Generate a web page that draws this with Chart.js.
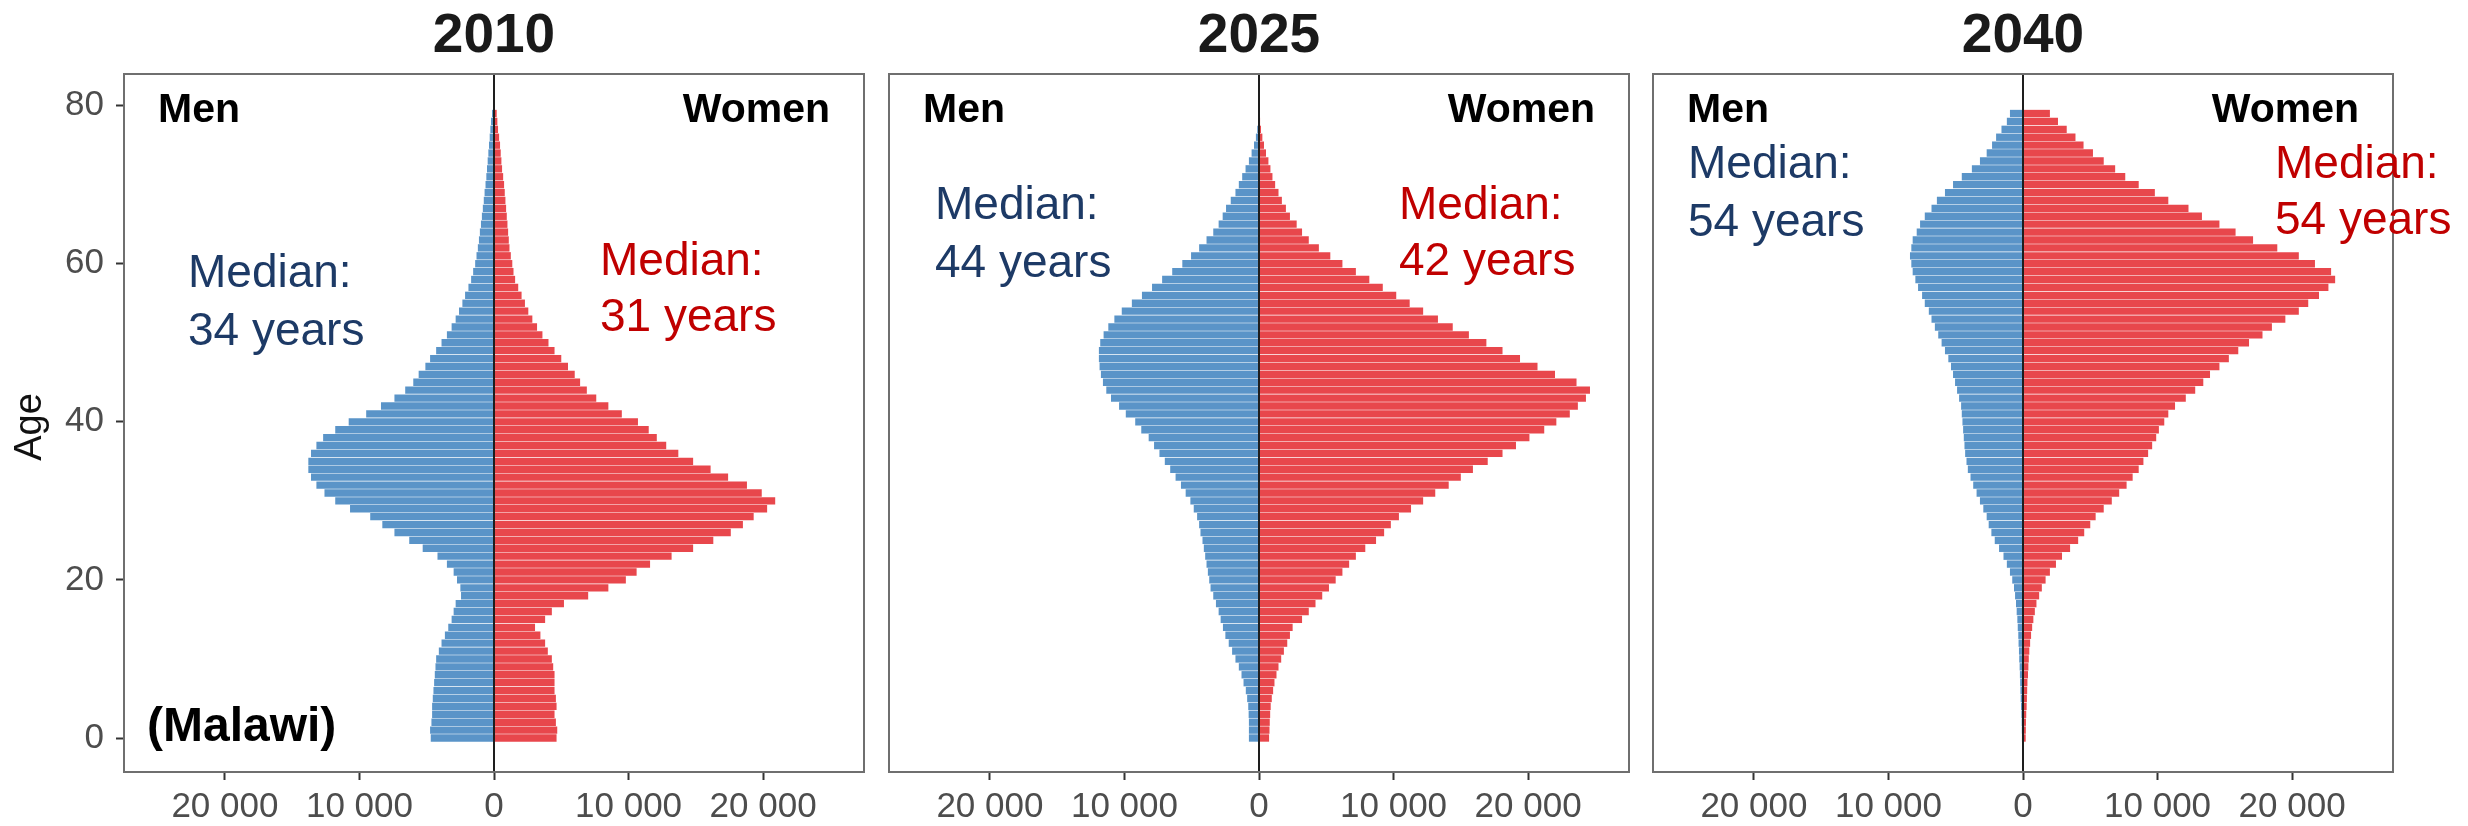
<!DOCTYPE html>
<html>
<head>
<meta charset="utf-8">
<script src="https://cdn.jsdelivr.net/npm/chart.js@4.4.1/dist/chart.umd.min.js"></script>
<style>
  html, body { margin: 0; padding: 0; background: #ffffff; }
  #wrap { position: relative; width: 2468px; height: 826px; overflow: hidden; }
  #wrap canvas { position: absolute; left: 0; top: 0; }
</style>
</head>
<body>
<div id="wrap">
  <canvas id="c2010" width="2468" height="826"></canvas>
  <canvas id="c2025" width="2468" height="826"></canvas>
  <canvas id="c2040" width="2468" height="826"></canvas>
</div>
<script>
// ---- data: single-year ages and population by sex (persons) ----
const AGES = [
  0, 1, 2, 3, 4, 5, 6, 7, 8, 9, 10, 11, 12, 13, 14, 15, 16, 17, 18, 19,
  20, 21, 22, 23, 24, 25, 26, 27, 28, 29, 30, 31, 32, 33, 34, 35, 36, 37, 38, 39,
  40, 41, 42, 43, 44, 45, 46, 47, 48, 49, 50, 51, 52, 53, 54, 55, 56, 57, 58, 59,
  60, 61, 62, 63, 64, 65, 66, 67, 68, 69, 70, 71, 72, 73, 74, 75, 76, 77, 78, 79
];
const AGE_TICKS = [0, 20, 40, 60, 80];
const POP_TICKS = [-20000, -10000, 0, 10000, 20000];
const YEARS = ['2010', '2025', '2040'];

const MEN_2010 = [
  4700, 4750, 4650, 4600, 4600, 4550, 4500, 4450, 4400, 4350, 4300, 4100, 3900, 3650, 3400, 3150, 3000, 2850, 2450, 2500,
  2750, 3000, 3500, 4200, 5300, 6300, 7400, 8300, 9200, 10700, 11800, 12600, 13200, 13600, 13800, 13800, 13600, 13200, 12700, 11800,
  10800, 9500, 8400, 7400, 6600, 6000, 5600, 5100, 4750, 4300, 3900, 3500, 3150, 2850, 2600, 2350, 2150, 1900, 1700, 1550,
  1400, 1300, 1200, 1120, 1050, 970, 900, 830, 760, 700, 630, 570, 520, 470, 420, 370, 320, 270, 220, 150
];
const WOMEN_2010 = [
  4650, 4700, 4600, 4500, 4650, 4600, 4500, 4500, 4500, 4400, 4300, 4000, 3800, 3450, 3050, 3800, 4300, 5200, 7000, 8500,
  9800, 10600, 11600, 13200, 14800, 16300, 17600, 18500, 19300, 20300, 20900, 19900, 18800, 17400, 16100, 14800, 13700, 12800, 12100, 11500,
  10700, 9500, 8500, 7600, 6900, 6400, 6000, 5500, 5000, 4500, 4050, 3600, 3200, 2850, 2550, 2300, 2050, 1800, 1570, 1450,
  1360, 1250, 1150, 1100, 1050, 1000, 950, 900, 850, 800, 750, 680, 600, 550, 500, 450, 380, 300, 250, 200
];
const MEN_2025 = [
  750, 750, 750, 770, 800, 880, 980, 1150, 1300, 1500, 1750, 2000, 2250, 2500, 2680, 2850, 3000, 3200, 3400, 3600,
  3700, 3800, 3900, 4000, 4100, 4200, 4350, 4450, 4600, 4850, 5100, 5450, 5800, 6200, 6600, 7000, 7400, 7800, 8200, 8750,
  9200, 9900, 10400, 11000, 11350, 11600, 11750, 11850, 11900, 11900, 11800, 11550, 11200, 10750, 10200, 9450, 8700, 7950, 7200, 6450,
  5700, 5050, 4450, 3900, 3400, 3000, 2700, 2450, 2100, 1750, 1500, 1250, 1000, 750, 550, 370, 230, 130, 70, 30
];
const WOMEN_2025 = [
  750, 780, 800, 830, 870, 950, 1050, 1150, 1300, 1450, 1650, 1850, 2100, 2300, 2500, 3200, 3700, 4200, 4700, 5200,
  5700, 6200, 6700, 7200, 7900, 8700, 9300, 9800, 10400, 11300, 12200, 13100, 14100, 15000, 15900, 17000, 18100, 19100, 20100, 21200,
  22100, 23100, 23700, 24300, 24600, 23600, 22000, 20700, 19400, 18100, 16900, 15600, 14400, 13300, 12200, 11200, 10200, 9200, 8200, 7200,
  6200, 5300, 4450, 3700, 3200, 2800, 2300, 2000, 1700, 1450, 1200, 1000, 850, 700, 520, 370, 250, 150, 80, 40
];
const MEN_2040 = [
  80, 90, 100, 120, 150, 170, 190, 210, 230, 250, 280, 300, 330, 350, 390, 420, 470, 520, 590, 670,
  800, 970, 1200, 1450, 1780, 2100, 2350, 2550, 2700, 2950, 3200, 3450, 3700, 3900, 4100, 4200, 4300, 4350, 4400, 4450,
  4500, 4550, 4600, 4750, 4900, 5050, 5200, 5350, 5550, 5800, 6050, 6300, 6550, 6800, 7000, 7300, 7500, 7800, 8000, 8200,
  8300, 8400, 8300, 8200, 7900, 7650, 7300, 6800, 6400, 5800, 5200, 4550, 3800, 3200, 2700, 2300, 2000, 1600, 1200, 970
];
const WOMEN_2040 = [
  200, 210, 220, 240, 270, 290, 310, 330, 370, 400, 430, 470, 530, 600, 680, 770, 880, 1000, 1200, 1400,
  1680, 2000, 2450, 2900, 3500, 4100, 4550, 5000, 5400, 6000, 6600, 7150, 7700, 8150, 8600, 8950, 9300, 9600, 9900, 10100,
  10500, 10800, 11300, 12100, 12800, 13400, 13900, 14600, 15300, 16000, 16800, 17800, 18500, 19500, 20500, 21200, 22000, 22700, 23200, 22900,
  21700, 20500, 18900, 17100, 15800, 14600, 13300, 12300, 10800, 9800, 8600, 7600, 6850, 6000, 5200, 4500, 3900, 3250, 2600, 2000
];

const MEN_SERIES = [MEN_2010, MEN_2025, MEN_2040];
const WOMEN_SERIES = [WOMEN_2010, WOMEN_2025, WOMEN_2040];
const MEDIAN_MEN = ['34 years', '44 years', '54 years'];
const MEDIAN_WOMEN = ['31 years', '42 years', '54 years'];

// ---- layout and styling ----
const W = 2468, H = 826;
const BOX_TOP = 74, BOX_BOTTOM = 772;
const FONT = '"Liberation Sans", Arial, Helvetica, sans-serif';
const BLUE = '#5a94c8';
const RED = '#e8474c';
const BLUE_TEXT = '#1d3a66';
const RED_TEXT = '#c00000';

const PANELS = [
  { canvas: 'c2010', left: 124, right: 864, yAxis: true, country: '(Malawi)',
    menText: { x: 188, y: 287 }, womenText: { x: 600, y: 275 } },
  { canvas: 'c2025', left: 889, right: 1629, yAxis: false, country: null,
    menText: { x: 935, y: 219 }, womenText: { x: 1399, y: 219 } },
  { canvas: 'c2040', left: 1653, right: 2393, yAxis: false, country: null,
    menText: { x: 1688, y: 178 }, womenText: { x: 2275, y: 178 } }
];

function fmtPop(v) {
  const a = Math.abs(Math.round(v));
  return String(a).replace(/\B(?=(\d{3})+(?!\d))/g, ' ');
}

// panel frame, zero line and the text annotations
const decorPlugin = {
  id: 'decor',
  afterDatasetsDraw(chart, args, o) {
    const { ctx, chartArea: a } = chart;
    const xs = chart.scales.x;
    ctx.save();
    // zero line
    const x0 = Math.round(xs.getPixelForValue(0));
    ctx.strokeStyle = '#1e1e1e';
    ctx.lineWidth = 2;
    ctx.beginPath();
    ctx.moveTo(x0, a.top);
    ctx.lineTo(x0, a.bottom);
    ctx.stroke();
    // panel border
    ctx.strokeStyle = '#6f6f6f';
    ctx.lineWidth = 2;
    ctx.strokeRect(a.left, a.top, a.right - a.left, a.bottom - a.top);

    // year heading
    ctx.fillStyle = '#1a1a1a';
    ctx.textBaseline = 'alphabetic';
    ctx.textAlign = 'center';
    ctx.font = 'bold 55px ' + FONT;
    ctx.fillText(o.year, (a.left + a.right) / 2, 52);

    // sex labels
    ctx.fillStyle = '#000000';
    ctx.font = 'bold 41px ' + FONT;
    ctx.textAlign = 'left';
    ctx.fillText('Men', a.left + 34, 122);
    ctx.textAlign = 'right';
    ctx.fillText('Women', a.right - 34, 122);

    // medians
    ctx.textAlign = 'left';
    ctx.font = '46px ' + FONT;
    ctx.fillStyle = BLUE_TEXT;
    ctx.fillText('Median:', o.menText.x, o.menText.y);
    ctx.fillText(o.menMedian, o.menText.x, o.menText.y + 58);
    ctx.fillStyle = RED_TEXT;
    ctx.fillText('Median:', o.womenText.x, o.womenText.y);
    ctx.fillText(o.womenMedian, o.womenText.x, o.womenText.y + 56);

    if (o.country) {
      ctx.fillStyle = '#000000';
      ctx.font = 'bold 48px ' + FONT;
      ctx.fillText(o.country, a.left + 23, 741);
    }
    if (o.axisTitle) {
      ctx.fillStyle = '#111111';
      ctx.font = '38px ' + FONT;
      ctx.translate(41, (a.top + a.bottom) / 2 + 4);
      ctx.rotate(-Math.PI / 2);
      ctx.textAlign = 'center';
      ctx.fillText(o.axisTitle, 0, 0);
    }
    ctx.restore();
  }
};

PANELS.forEach((p, k) => {
  const men = MEN_SERIES[k];
  const women = WOMEN_SERIES[k];
  const barOpts = { grouped: false, barPercentage: 0.93, categoryPercentage: 1, borderWidth: 0 };
  new Chart(document.getElementById(p.canvas), {
    type: 'bar',
    data: {
      datasets: [
        Object.assign({ label: 'Men', backgroundColor: BLUE,
          data: AGES.map((age, i) => ({ x: -men[i], y: age })) }, barOpts),
        Object.assign({ label: 'Women', backgroundColor: RED,
          data: AGES.map((age, i) => ({ x: women[i], y: age })) }, barOpts)
      ]
    },
    options: {
      indexAxis: 'y',
      responsive: false,
      animation: false,
      events: [],
      layout: { padding: { left: p.yAxis ? 0 : p.left, right: W - p.right, top: BOX_TOP, bottom: 0 } },
      scales: {
        x: {
          type: 'linear',
          min: -27500,
          max: 27500,
          afterFit(s) { s.height = H - BOX_BOTTOM; },
          afterBuildTicks(s) { s.ticks = POP_TICKS.map(v => ({ value: v })); },
          ticks: {
            callback: v => fmtPop(v),
            font: { family: FONT, size: 35 },
            color: '#4d4d4d',
            padding: 6,
            maxRotation: 0,
            autoSkip: false
          },
          grid: { drawOnChartArea: false, drawTicks: true, tickLength: 8, tickWidth: 2, tickColor: '#333333', offset: false },
          border: { display: false }
        },
        y: {
          type: 'linear',
          min: -4.3,
          max: 84,
          offset: false,
          display: p.yAxis,
          afterFit(s) { s.width = p.yAxis ? p.left : 0; },
          afterBuildTicks(s) { s.ticks = AGE_TICKS.map(v => ({ value: v })); },
          ticks: {
            font: { family: FONT, size: 35 },
            color: '#4d4d4d',
            padding: 12,
            autoSkip: false
          },
          grid: { drawOnChartArea: false, drawTicks: true, tickLength: 8, tickWidth: 2, tickColor: '#333333', offset: false },
          border: { display: false }
        }
      },
      plugins: {
        legend: { display: false },
        tooltip: { enabled: false },
        title: { display: false },
        decor: {
          year: YEARS[k],
          menMedian: MEDIAN_MEN[k],
          womenMedian: MEDIAN_WOMEN[k],
          menText: p.menText,
          womenText: p.womenText,
          country: p.country,
          axisTitle: p.yAxis ? 'Age' : null
        }
      }
    },
    plugins: [decorPlugin]
  });
});
</script>
</body>
</html>
